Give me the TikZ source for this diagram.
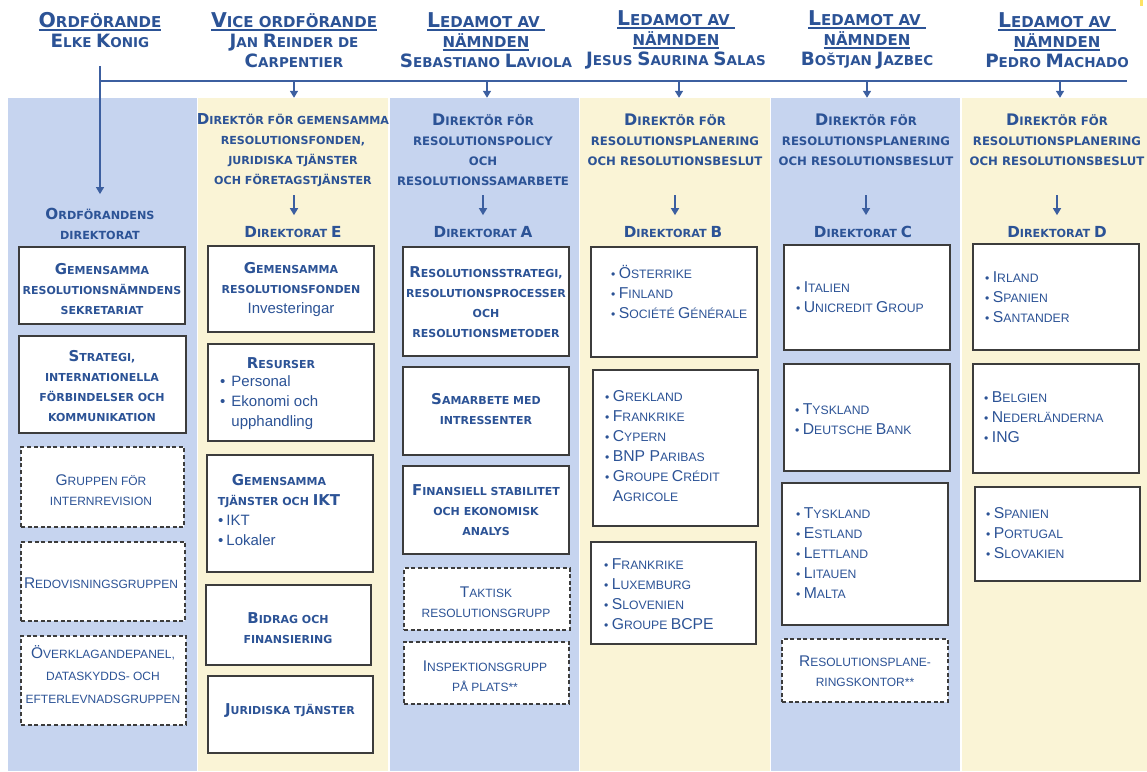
\documentclass[tikz,border=0pt]{standalone}
\usepackage{fontspec}
\usetikzlibrary{arrows.meta}
\newfontfamily\dvs{DejaVu Sans}
\newfontfamily\dvsC[Scale=1.36]{DejaVu Sans}
\newfontfamily\lib{Liberation Sans}
\newfontfamily\libC[Scale=1.29]{Liberation Sans}
\newcommand\bC[1]{{\dvsC #1}}
\newcommand\rC[1]{{\libC #1}}
\newcommand\plainf{\lib\mdseries\fontsize{15}{20}\selectfont}
\newcommand\ttlf{\fontsize{15}{20}\selectfont}
\newsavebox\ulbox
\newcommand\ulx[1]{\sbox\ulbox{\ttlf #1}\rlap{\rule[-3.2pt]{\wd\ulbox}{1.8pt}}\usebox\ulbox}
\definecolor{pb}{RGB}{198,212,239}
\definecolor{py}{RGB}{250,244,214}
\definecolor{tb}{RGB}{44,83,150}
\definecolor{lb}{RGB}{60,95,160}
\definecolor{bd}{RGB}{60,60,60}
\tikzset{
  hdr/.style={font=\dvs\bfseries\fontsize{13.5}{20}\selectfont, text=tb, align=center, inner sep=0},
  dir/.style={font=\dvs\bfseries\fontsize{11.7}{20}\selectfont, text=tb, align=center, inner sep=0},
  dtt/.style={font=\dvs\bfseries\fontsize{11.2}{20}\selectfont, text=tb, align=center, inner sep=0},
  bt/.style={font=\dvs\bfseries\fontsize{11}{20}\selectfont, text=tb, align=center, inner sep=0},
  rt/.style={font=\lib\fontsize{12}{20}\selectfont, text=tb, align=center, inner sep=0},
  lst/.style={font=\lib\fontsize{12.2}{20}\selectfont, text=tb, align=left, anchor=west, inner sep=0},
  plst/.style={font=\plainf, text=tb, align=left, anchor=west, inner sep=0},
  boxs/.style={draw=bd, line width=1.6pt, fill=white, inner sep=0},
  dboxs/.style={boxs, dash pattern=on 4pt off 2.6pt, line width=1.5pt},
  panel/.style={inner sep=0, draw=none},
  conn/.style={draw=lb, line width=1.5pt},
  arr/.style={conn, -{Triangle[width=8pt,length=7pt]}},
}
\newcommand\boxat[6]{\node[#6, minimum width={#4-#2}, minimum height={#5-#3}] (#1) at ({(#2+#4)/2},{(#3+#5)/2}) {};}
\begin{document}
\begin{tikzpicture}[x=1pt,y=-1pt]
\useasboundingbox (0,0) rectangle (1147,771);
% panels
\boxat{p1}{8}{98}{197}{771}{panel,fill=pb}
\boxat{p2}{198}{98}{388}{771}{panel,fill=py}
\boxat{p3}{390}{98}{579}{771}{panel,fill=pb}
\boxat{p4}{580}{98}{770}{771}{panel,fill=py}
\boxat{p5}{771}{98}{960}{771}{panel,fill=pb}
\boxat{p6}{962}{98}{1147}{771}{panel,fill=py}
\fill[yellow!70!orange!60] (1140,0) rectangle (1143,6);
% headers
\node[hdr] (h1) at (100,30) {\ulx{\bC{O}RDFÖRANDE}\\\bC{E}LKE \bC{K}ONIG};
\node[hdr] (h2) at (294,40) {\ulx{\bC{V}ICE ORDFÖRANDE}\\\bC{J}AN \bC{R}EINDER DE\\\bC{C}ARPENTIER};
\node[hdr] (h3) at (486,40) {\ulx{\bC{L}EDAMOT AV }\\\ulx{NÄMNDEN}\\\bC{S}EBASTIANO \bC{L}AVIOLA};
\node[hdr] (h4) at (676,40) {\ulx{\bC{L}EDAMOT AV }\\\ulx{NÄMNDEN}\\\bC{J}ESUS \bC{S}AURINA \bC{S}ALAS};
\node[hdr] (h5) at (867,40) {\ulx{\bC{L}EDAMOT AV }\\\ulx{NÄMNDEN}\\\bC{B}OŠTJAN \bC{J}AZBEC};
\node[hdr] (h6) at (1057,40) {\ulx{\bC{L}EDAMOT AV }\\\ulx{NÄMNDEN}\\\bC{P}EDRO \bC{M}ACHADO};
% connector lines
\coordinate (hl0) at (100,81);
\coordinate (hlE) at (1127,81);
\draw[conn] (hl0) -- (hlE);
\coordinate (v0) at (100,66);
\foreach \i/\x in {2/294,3/487,4/679,5/867,6/1060}{
  \coordinate (t\i) at (\x,81);
  \draw[arr] (t\i) -- (t\i |- p\i.north);
}
% directors
\node[dir, font=\dvs\bfseries\fontsize{11.1}{20}\selectfont] (d2) at (293,150) {\bC{D}IREKTÖR FÖR GEMENSAMMA\\RESOLUTIONSFONDEN,\\JURIDISKA TJÄNSTER\\OCH FÖRETAGSTJÄNSTER};
\node[dir] (d3) at (483,150) {\bC{D}IREKTÖR FÖR\\RESOLUTIONSPOLICY\\OCH\\RESOLUTIONSSAMARBETE};
\node[dir] (d4) at (675,140) {\bC{D}IREKTÖR FÖR\\RESOLUTIONSPLANERING\\OCH RESOLUTIONSBESLUT};
\node[dir] (d5) at (866,140) {\bC{D}IREKTÖR FÖR\\RESOLUTIONSPLANERING\\OCH RESOLUTIONSBESLUT};
\node[dir] (d6) at (1057,140) {\bC{D}IREKTÖR FÖR\\RESOLUTIONSPLANERING\\OCH RESOLUTIONSBESLUT};
% directorate titles
\node[dtt] (o1) at (100,224) {\bC{O}RDFÖRANDENS\\DIREKTORAT};
\node[dtt] (dtE) at (293,232) {\bC{D}IREKTORAT \bC{E}};
\node[dtt] (dtA) at (483,232) {\bC{D}IREKTORAT \bC{A}};
\node[dtt] (dtB) at (673,232) {\bC{D}IREKTORAT \bC{B}};
\node[dtt] (dtC) at (863,232) {\bC{D}IREKTORAT \bC{C}};
\node[dtt] (dtD) at (1057,232) {\bC{D}IREKTORAT \bC{D}};
\draw[arr] (v0) -- (v0 |- o1.north) [shorten >=14pt];
\foreach \n/\x in {E/294,A/483,B/675,C/866,D/1057}{
  \coordinate (a\n) at (\x,195);
  \draw[arr, shorten >=11pt] (a\n) -- (a\n |- dt\n.north);
}
% column 1
\boxat{c1a}{19}{247}{185}{324}{boxs}
\node[bt] (c1at) at (102,289) {\bC{G}EMENSAMMA\\RESOLUTIONSNÄMNDENS\\SEKRETARIAT};
\boxat{c1b}{19}{336}{186}{433}{boxs}
\node[bt] (c1bt) at (102,386) {\bC{S}TRATEGI,\\INTERNATIONELLA\\FÖRBINDELSER OCH\\KOMMUNIKATION};
\boxat{c1c}{21}{447}{184}{527}{dboxs}
\node[rt] (c1ct) at (101,490.5) {\rC{G}RUPPEN FÖR\\INTERNREVISION};
\boxat{c1d}{21}{542}{185}{621}{dboxs}
\node[rt] (c1dt) at (101,583) {\rC{R}EDOVISNINGSGRUPPEN};
\boxat{c1e}{21}{636}{186}{725}{dboxs}
\node[rt, font=\lib\fontsize{12}{22.5}\selectfont] (c1et) at (103,674.5) {\rC{Ö}VERKLAGANDEPANEL,\\DATASKYDDS- OCH\\EFTERLEVNADSGRUPPEN};
% column 2
\boxat{c2a}{208}{246}{374}{332}{boxs}
\node[bt] (c2at) at (291,289) {\bC{G}EMENSAMMA\\RESOLUTIONSFONDEN\\{\plainf Investeringar}};
\boxat{c2b}{208}{344}{374}{441}{boxs}
\node[bt] (c2bt) at (281,363) {\bC{R}ESURSER};
\node[plst] (c2bl) at (220,403) {•\hspace{6pt}Personal\\•\hspace{6pt}Ekonomi och\\\hphantom{•\hspace{6pt}}upphandling};
\boxat{c2c}{207}{455}{373}{572}{boxs}
\node[bt] (c2ct) at (279,491) {\bC{G}EMENSAMMA\\TJÄNSTER OCH \bC{IKT}};
\node[plst] (c2cl) at (218,530) {•\hspace{3pt}IKT\\•\hspace{3pt}Lokaler};
\boxat{c2d}{206}{585}{371}{665}{boxs}
\node[bt] (c2dt) at (288,628) {\bC{B}IDRAG OCH\\FINANSIERING};
\boxat{c2e}{208}{676}{373}{753}{boxs}
\node[bt] (c2et) at (290,711) {\bC{J}URIDISKA TJÄNSTER};
% column 3
\boxat{c3a}{403}{247}{569}{356}{boxs}
\node[bt] (c3at) at (486,302) {\bC{R}ESOLUTIONSSTRATEGI,\\RESOLUTIONSPROCESSER\\OCH\\RESOLUTIONSMETODER};
\boxat{c3b}{403}{367}{569}{455}{boxs}
\node[bt] (c3bt) at (486,409) {\bC{S}AMARBETE MED\\INTRESSENTER};
\boxat{c3c}{403}{466}{569}{554}{boxs}
\node[bt] (c3ct) at (486,510) {\bC{F}INANSIELL STABILITET\\OCH EKONOMISK\\ANALYS};
\boxat{c3d}{404}{568}{570}{630}{dboxs}
\node[rt] (c3dt) at (486,602) {\rC{T}AKTISK\\RESOLUTIONSGRUPP};
\boxat{c3e}{404}{642}{569}{704}{dboxs}
\node[rt] (c3et) at (485,676) {\rC{I}NSPEKTIONSGRUPP\\PÅ PLATS**};
% column 4
\boxat{c4a}{591}{247}{757}{357}{boxs}
\node[lst] (c4al) at (611,292) {•~\rC{Ö}STERRIKE\\•~\rC{F}INLAND\\•~\rC{S}OCIÉTÉ \rC{G}ÉNÉRALE};
\boxat{c4b}{593}{370}{758}{526}{boxs}
\node[lst] (c4bl) at (605,446.5) {•~\rC{G}REKLAND\\•~\rC{F}RANKRIKE\\•~\rC{C}YPERN\\•~\rC{BNP P}ARIBAS\\•~\rC{G}ROUPE \rC{C}RÉDIT\\\hphantom{•~}\rC{A}GRICOLE};
\boxat{c4c}{591}{542}{756}{644}{boxs}
\node[lst] (c4cl) at (604,594) {•~\rC{F}RANKRIKE\\•~\rC{L}UXEMBURG\\•~\rC{S}LOVENIEN\\•~\rC{G}ROUPE \rC{BCPE}};
% column 5
\boxat{c5a}{784}{245}{950}{350}{boxs}
\node[lst] (c5al) at (796,297) {•~\rC{I}TALIEN\\•~\rC{U}NICREDIT \rC{G}ROUP};
\boxat{c5b}{784}{364}{950}{471}{boxs}
\node[lst] (c5bl) at (795,419) {•~\rC{T}YSKLAND\\•~\rC{D}EUTSCHE \rC{B}ANK};
\boxat{c5c}{782}{483}{948}{625}{boxs}
\node[lst] (c5cl) at (796,553.5) {•~\rC{T}YSKLAND\\•~\rC{E}STLAND\\•~\rC{L}ETTLAND\\•~\rC{L}ITAUEN\\•~\rC{M}ALTA};
\boxat{c5d}{782}{639}{948}{702}{dboxs}
\node[rt] (c5dt) at (865,671) {\rC{R}ESOLUTIONSPLANE-\\RINGSKONTOR**};
% column 6
\boxat{c6a}{973}{244}{1139}{350}{boxs}
\node[lst] (c6al) at (985,297) {•~\rC{I}RLAND\\•~\rC{S}PANIEN\\•~\rC{S}ANTANDER};
\boxat{c6b}{973}{364}{1139}{473}{boxs}
\node[lst] (c6bl) at (984,417) {•~\rC{B}ELGIEN\\•~\rC{N}EDERLÄNDERNA\\•~\rC{ING}};
\boxat{c6c}{975}{487}{1140}{581}{boxs}
\node[lst] (c6cl) at (986,533.5) {•~\rC{S}PANIEN\\•~\rC{P}ORTUGAL\\•~\rC{S}LOVAKIEN};
\end{tikzpicture}
\end{document}
